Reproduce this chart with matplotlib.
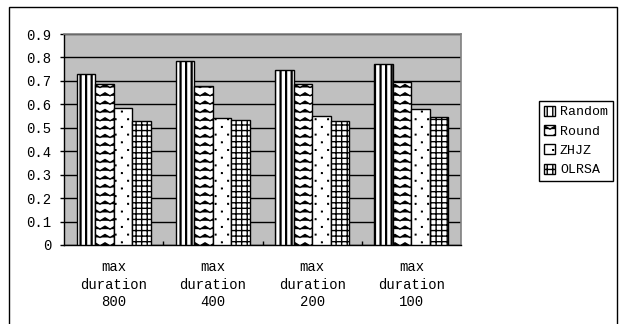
import warnings
warnings.filterwarnings("ignore")
import numpy as np
import matplotlib
matplotlib.use("Agg")
import matplotlib.pyplot as plt
import matplotlib.hatch as mhatch
from matplotlib.path import Path
from matplotlib.patches import Rectangle, Patch

# ---- data ----
categories = ["max\nduration\n800", "max\nduration\n400", "max\nduration\n200", "max\nduration\n100"]
series_names = ["Random", "Round", "ZHJZ", "OLRSA"]
random_vals = [0.728, 0.786, 0.747, 0.771]
round_vals = [0.686, 0.680, 0.686, 0.695]
zhjz_vals = [0.586, 0.543, 0.552, 0.581]
olrsa_vals = [0.530, 0.532, 0.530, 0.547]
yticks = [0, 0.1, 0.2, 0.3, 0.4, 0.5, 0.6, 0.7, 0.8, 0.9]
ytick_labels = ["0", "0.1", "0.2", "0.3", "0.4", "0.5", "0.6", "0.7", "0.8", "0.9"]


# ---- custom zigzag hatch ('z') ----
class ZigZagHatch(mhatch.HatchPatternBase):
    def __init__(self, hatch, density):
        n = hatch.count('z')
        self.rows = 12 * n if n else 0
        self.periods = 10
        self.pts = 2 * self.periods + 1
        self.num_vertices = self.rows * self.pts

    def set_vertices_and_codes(self, vertices, codes):
        amp = 0.03
        xs = np.linspace(0, 1, self.pts)
        for r in range(self.rows):
            y0 = (r + 0.5) / self.rows
            ys = y0 + amp * (np.arange(self.pts) % 2)
            sl = slice(r * self.pts, (r + 1) * self.pts)
            vertices[sl, 0] = xs
            vertices[sl, 1] = ys
            codes[sl] = Path.LINETO
            codes[r * self.pts] = Path.MOVETO


# ---- custom sparse small-dot hatch ('p') ----
class SparseDotHatch(mhatch.HatchPatternBase):
    def __init__(self, hatch, density):
        n = hatch.count('p')
        self.rows = 13 * n if n else 0
        self.cols = 8
        self.dots = self.rows * self.cols
        self.num_vertices = self.dots * 5

    def set_vertices_and_codes(self, vertices, codes):
        s = 0.003
        i = 0
        for r in range(self.rows):
            y = (r + 0.5) / self.rows
            shift = 0.5 if r % 2 else 0.0
            for c in range(self.cols):
                xc = ((c + 0.25 + shift) / self.cols) % 1.0
                sq = np.array([[xc - s, y - s], [xc + s, y - s], [xc + s, y + s],
                               [xc - s, y + s], [xc - s, y - s]])
                vertices[i:i + 5] = sq
                codes[i:i + 5] = [Path.MOVETO, Path.LINETO, Path.LINETO,
                                  Path.LINETO, Path.CLOSEPOLY]
                i += 5


mhatch._hatch_types.append(ZigZagHatch)
mhatch._hatch_types.append(SparseDotHatch)

plt.rcParams['font.family'] = ['Liberation Mono', 'DejaVu Sans']
plt.rcParams['hatch.linewidth'] = 1.0
plt.rcParams['hatch.color'] = 'black'

fig = plt.figure(figsize=(6.2, 3.24), dpi=100)
ax = fig.add_axes([64 / 620, 1 - 245 / 324, (461 - 64) / 620, (245 - 34) / 324])
ax.set_facecolor('#C0C0C0')

x = np.arange(len(categories))
w = 0.186
all_vals = [random_vals, round_vals, zhjz_vals, olrsa_vals]
hatches = ['|||', 'z', 'p', '+++']
hatch_lws = [1.6, 1.0, 1.0, 1.0]
for k, (vals, h, name) in enumerate(zip(all_vals, hatches, series_names)):
    with plt.rc_context({'hatch.linewidth': hatch_lws[k]}):
        ax.bar(x + (k - 1.5) * w, vals, w, color='white', edgecolor='black',
               linewidth=1.0, hatch=h, label=name, zorder=3)

ax.set_xlim(-0.5, len(categories) - 0.5)
ax.set_ylim(0, 0.9)
ax.set_yticks(yticks)
ax.set_yticklabels(ytick_labels)
ax.yaxis.grid(True, color='black', linewidth=1.0, zorder=1)
ax.set_axisbelow(True)

ax.set_xticks(x)
ax.set_xticklabels(categories, linespacing=1.3)
ax.set_xticks(np.arange(0.5, len(categories) - 0.5, 1), minor=True)
ax.tick_params(axis='x', which='major', length=0, pad=11, labelsize=10)
ax.tick_params(axis='x', which='minor', length=3, direction='in', width=1, color='black')
ax.tick_params(axis='y', length=3, direction='out', width=1, pad=6, labelsize=10)

for s in ['top', 'right']:
    ax.spines[s].set_color('#808080')
    ax.spines[s].set_linewidth(1.2)
for s in ['left', 'bottom']:
    ax.spines[s].set_color('black')
    ax.spines[s].set_linewidth(1.0)

# legend
handles = [Patch(facecolor='white', edgecolor='black', hatch=h, label=n)
           for h, n in zip(hatches, series_names)]
leg = fig.legend(handles=handles, loc='center', bbox_to_anchor=(576 / 620, 1 - 141 / 324),
                 fontsize=9.5, handlelength=0.8, handleheight=0.8, handletextpad=0.4,
                 labelspacing=0.5, borderpad=0.4, fancybox=False, framealpha=1,
                 edgecolor='black')
leg.get_frame().set_linewidth(1.0)

# outer chart frame
fig.patches.append(Rectangle((9 / 620, -0.02), (617 - 9) / 620, (1 - 7 / 324) + 0.02,
                             transform=fig.transFigure, fill=False, edgecolor='black',
                             linewidth=1.0, clip_on=False))

fig.savefig('out.png', dpi=100)
